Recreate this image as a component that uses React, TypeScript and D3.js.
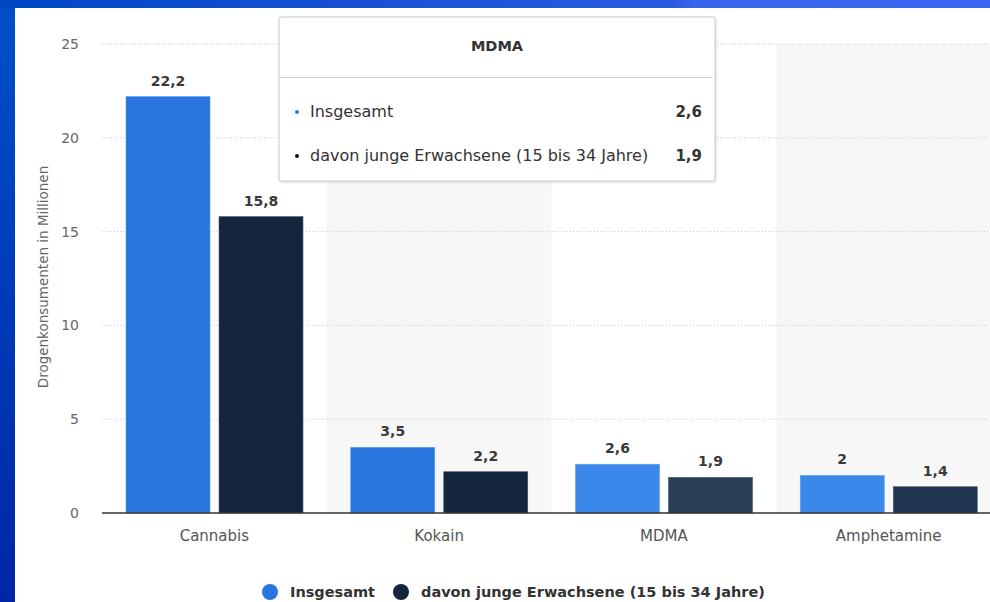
import React from "react";
import * as d3 from "d3";

const categories = ["Cannabis", "Kokain", "MDMA", "Amphetamine"];
const seriesNames = ["Insgesamt", "davon junge Erwachsene (15 bis 34 Jahre)"];
const insgesamt = [22.2, 3.5, 2.6, 2.0];
const jungeErwachsene = [15.8, 2.2, 1.9, 1.4];
const yTicks = [0, 5, 10, 15, 20, 25];
const yLabel = "Drogenkonsumenten in Millionen";
const tooltipCategory = "MDMA";

const W = 990;
const H = 602;
const FONT = "'DejaVu Sans', sans-serif";

const baseColors = ["#2876dd", "#13263d"];
const lightColors = ["#3a88ea", "#2a3e55"];
const amphColors = ["#3a88ea", "#1f344e"];

const locale = d3.formatLocale({ decimal: ",", thousands: ".", grouping: [3], currency: ["", "€"] });
const fmt = (v: number) => locale.format("~f")(v);

export default function App() {
  const y = d3.scaleLinear().domain([0, 25]).range([513, 44]);
  const x0 = d3.scaleBand<string>().domain(categories).range([102, 1001]).paddingInner(0).paddingOuter(0);
  const x1 = d3.scaleBand<number>().domain([0, 1]).range([24, 201]).paddingInner(0.0968).paddingOuter(0);
  const data = [insgesamt, jungeErwachsene];
  const colorFor = (ci: number, si: number) => {
    if (categories[ci] === tooltipCategory) return lightColors[si];
    if (ci === 3) return amphColors[si];
    return baseColors[si];
  };
  const ti = categories.indexOf(tooltipCategory);

  return (
    <svg width={W} height={H} style={{ position: "fixed", left: 0, top: 0, fontFamily: FONT }}>
      <defs>
        <linearGradient id="topg" x1="0" x2="1" y1="0" y2="0">
          <stop offset="0" stopColor="#0047c4" />
          <stop offset="0.68" stopColor="#2a5be0" />
          <stop offset="0.7" stopColor="#3a64ea" />
          <stop offset="1" stopColor="#3b66f2" />
        </linearGradient>
        <linearGradient id="leftg" x1="0" x2="0" y1="0" y2="1">
          <stop offset="0" stopColor="#0050c8" />
          <stop offset="1" stopColor="#0026a6" />
        </linearGradient>
        <filter id="shadow" x="-5%" y="-5%" width="110%" height="115%">
          <feDropShadow dx="1" dy="1" stdDeviation="1.2" floodColor="#000" floodOpacity="0.15" />
        </filter>
      </defs>
      <rect x={0} y={0} width={W} height={H} fill="url(#leftg)" />
      <rect x={0} y={0} width={W} height={8} fill="url(#topg)" />
      <rect x={15} y={8} width={W - 15} height={H - 8} fill="#ffffff" />

      {categories.map((c, i) =>
        i % 2 === 1 ? (
          <rect key={c} x={x0(c)!} y={y(25)} width={x0.bandwidth()} height={y(0) - y(25)} fill="#f7f7f7" />
        ) : null
      )}

      {yTicks.filter((t) => t !== 0).map((t) => (
        <line key={t} x1={102} x2={W} y1={y(t)} y2={y(t)} stroke="#c8c8c8" strokeWidth={1} strokeDasharray="1,2" />
      ))}

      {yTicks.map((t) => (
        <text key={t} x={79} y={y(t) + 5} textAnchor="end" fontSize={14} fill="#666">
          {t}
        </text>
      ))}
      <text transform={`translate(48,${277}) rotate(-90)`} textAnchor="middle" fontSize={13.5} fill="#666">
        {yLabel}
      </text>

      {categories.map((c, ci) =>
        data.map((arr, si) => {
          const bx = x0(c)! + x1(si)!;
          const v = arr[ci];
          return (
            <g key={c + si}>
              <rect
                x={bx}
                y={y(v)}
                width={x1.bandwidth()}
                height={y(0) - y(v)}
                fill={colorFor(ci, si)}
                stroke={si === 0 ? "#5b9bf0" : "#4a5a6c"}
                strokeWidth={0.6}
              />
              <text x={bx + x1.bandwidth() / 2} y={y(v) - 11} textAnchor="middle" fontSize={14} fontWeight="bold" fill="#3a3a3a">
                {fmt(v)}
              </text>
            </g>
          );
        })
      )}

      <line x1={102} x2={W} y1={y(0)} y2={y(0)} stroke="#333" strokeWidth={1.5} />
      {categories.map((c) => (
        <text key={c} x={x0(c)! + x0.bandwidth() / 2} y={541} textAnchor="middle" fontSize={15} fill="#555">
          {c}
        </text>
      ))}

      <circle cx={270} cy={592} r={8} fill={baseColors[0]} />
      <text x={290} y={597} fontSize={14.5} fontWeight="bold" fill="#333">
        {seriesNames[0]}
      </text>
      <circle cx={401} cy={592} r={8} fill={baseColors[1]} />
      <text x={421} y={597} fontSize={14.5} fontWeight="bold" fill="#333">
        {seriesNames[1]}
      </text>

      <g>
        <rect x={279} y={17} width={436} height={164} rx={2} fill="#fff" stroke="#c8c8c8" strokeWidth={1} filter="url(#shadow)" />
        <text x={497} y={51} textAnchor="middle" fontSize={14.5} fontWeight="bold" fill="#333">
          {tooltipCategory}
        </text>
        <line x1={280} x2={713} y1={77.5} y2={77.5} stroke="#cfcfcf" strokeWidth={1} />
        {data.map((arr, si) => (
          <g key={si}>
            <circle cx={297} cy={112 + si * 44} r={2} fill={si === 0 ? baseColors[0] : "#111"} />
            <text x={310} y={117 + si * 44} fontSize={16} fill="#333">
              {seriesNames[si]}
            </text>
            <text x={702} y={117 + si * 44} textAnchor="end" fontSize={15} fontWeight="bold" fill="#333">
              {fmt(arr[ti])}
            </text>
          </g>
        ))}
      </g>
    </svg>
  );
}
